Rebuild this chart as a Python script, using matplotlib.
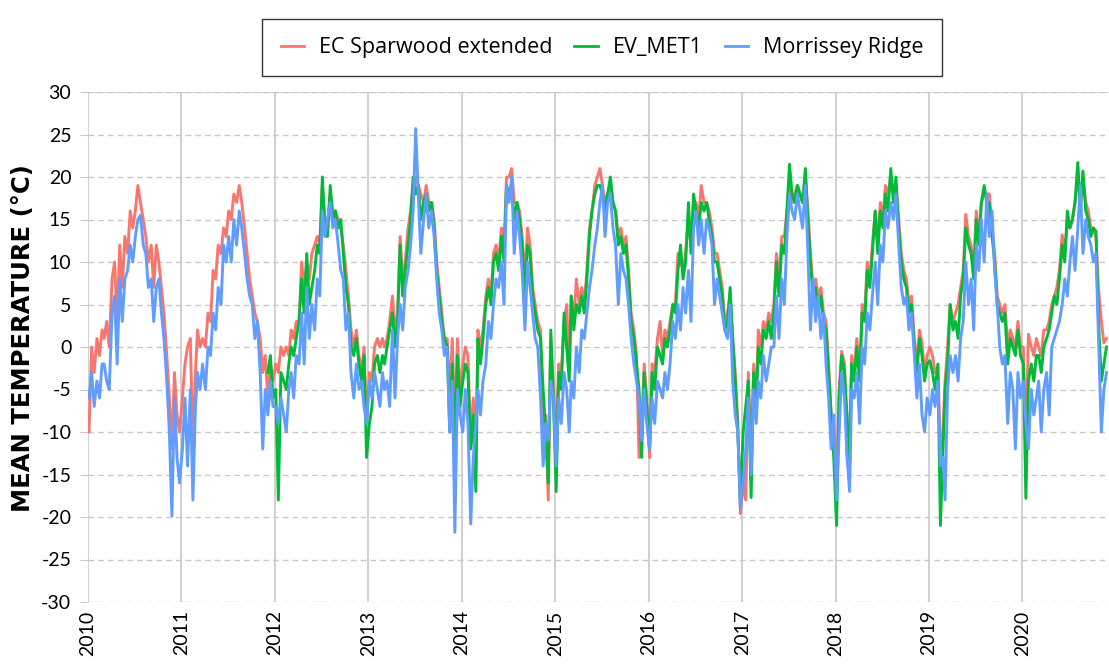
import numpy as np
import pandas as pd
import matplotlib
matplotlib.use("Agg")
import matplotlib.pyplot as plt

# Dekadal (10-day) mean air temperature, degrees C, one list per year (36 dekads)
ec_sparwood = {
    2010: [-10, 0, -3, 1, -1, 2, 1, 3, 0, 8, 10, 3, 12, 7, 13, 11, 16, 14, 16, 19, 17, 15, 13, 10, 12, 7, 12, 10, 7, 4, -1, -6, -12, -3, -8, -10],
    2011: [-6, -2, 0, 1, -12, -3, 2, 0, 1, 0, 4, 3, 9, 8, 12, 11, 14, 13, 16, 15, 18, 17, 19, 17, 14, 11, 8, 6, 4, 3, 1, -3, -1, -6, -2, -4],
    2012: [-2, -3, 0, -1, 0, -1, 2, 1, 3, 3, 10, 7, 10, 8, 11, 12, 13, 12, 19, 15, 14, 18, 16, 16, 15, 14, 12, 9, 6, 2, 0, 2, -1, -3, 0, -9],
    2013: [-3, -4, 0, 1, 0, 1, 0, 1, 3, 6, 2, 4, 13, 8, 10, 14, 16, 19, 20, 19, 18, 17, 19, 17, 17, 15, 10, 7, 4, 1, 1, -6, 1, -10, 1, -5],
    2014: [-2, 0, -1, -11, -6, -14, 2, 0, 2, 6, 8, 6, 11, 12, 10, 14, 12, 20, 20, 21, 17, 17, 16, 13, 8, 14, 12, 7, 5, 3, 2, -12, -8, -18, 1, -5],
    2015: [-10, -2, -3, 3, 5, -2, 6, 3, 8, 5, 7, 5, 9, 14, 16, 19, 20, 21, 19, 17, 18, 19, 17, 16, 13, 14, 12, 13, 9, 4, 2, -1, -13, -9, -2, -6],
    2016: [-13, -2, -3, 1, 3, -1, 2, 1, 3, 5, 5, 11, 10, 9, 11, 15, 12, 17, 17, 15, 19, 17, 17, 16, 14, 11, 11, 9, 7, 3, 4, 6, 1, -3, -9, -19.6],
    2017: [-16, -18, -3, -13, -2, -6, 2, 0, 3, 2, 4, 3, 5, 11, 8, 13, 13, 16, 20, 17, 18, 19, 18, 17, 20, 16, 11, 7, 8, 6, 7, 4, 3, -2, -8, -10],
    2018: [-16, -5, -0.5, -2, -12.8, -11, -1, -3, 1, -3, 5, 4, 10, 8, 12, 16, 12, 17, 15, 19, 18, 20, 18, 19, 15, 11, 9, 8, 5, 6, 1, -2, 2, 0.5, -3, -1],
    2019: [0, -1, -3, -2.4, -12, -10, -4, 0, 5, 3, 4, 5, 7, 9, 15.6, 13, 12, 9, 16, 13, 17, 18, 18, 18, 14, 11, 6, 5, 4, 5, 0, 2, 1, 0, 3, 0],
    2020: [0, -12, 1.5, 0, -1, 1, 0, -1, 2, 2, 3, 5, 6, 7, 9, 13.2, 11, 15, 14, 15, 17, 20, 17, 20, 17, 16, 14, 14, 13, 6.8, 3, 0.5, 1],
}

ev_met1 = {
    2011: [np.nan] * 33 + [-3, -1, -6],
    2012: [-5, -18, -3, -4, -5, -2, 0, -1, 1, 3, 8, 4, 11, 5, 7, 9, 12, 11, 20, 14, 13, 19, 15, 16, 14, 15, 11, 7, 5, 0, -1, 1, -2, -4, -1, -13],
    2013: [-9, -7, -2, -1, -3, -1, -2, 0, 2, 4, 0, 3, 12, 6, 9, 12, 15, 20, 18, 19, 15, 17, 18, 16, 17, 14, 9, 6, 3, 1, 0, -10, -2, -12, -1, -7],
    2014: [-4, -2, -3, -12, -8, -17, 1, -2, 1, 5, 7, 5, 10, 11, 9, 13, 10, 19, 18, 19, 15, 17, 15, 12, 6, 12, 11, 6, 4, 2, 1, -5, -10, -16, 2, -6],
    2015: [-17, -3, -5, 4, 0, -4, 6, 2, 5, 4, 6, 4, 8, 13, 16, 18, 19, 19, 18, 16, 18, 20, 17, 16, 12, 13, 11, 12, 8, 3, 1, -2, -5, -13, -3, -7],
    2016: [-12, -3, -5, 0, -1, -2, 1, 0, 2, 5, 4, 9, 12, 8, 10, 17, 11, 18, 16, 14, 17, 16, 17, 15, 13, 10, 10, 8, 6, 2, 3, 7, 1, -4, -10, -18],
    2017: [-10, -7, -4, -17.7, -3, -7, 0, -2, 2, 1, 3, 1, 4, 10, 6, 12, 11, 16, 21.5, 18, 17, 19, 18, 17, 21, 15, 10, 6, 7, 4, 6, 3, 2, -3, -8, -13],
    2018: [-21, -6, -1, -3, -8, -14, -2, -4, 0, -4, 4, 3, 9, 7, 11, 16, 11, 16, 14, 18, 16, 21, 17, 20, 14, 10, 8, 7, 4, 5, 0, -3, 1, -1, -4, -2],
    2019: [-1.6, -3, -5, -2, -21, -12, -5, -2, 5, 2, 3, 1, 6, 8, 14, 12, 11, 8, 15, 12, 17, 19, 17, 17, 13, 10, 5, 4, 3, 4, -2, 1, 0, -1, 2, -1],
    2020: [-2, -17.8, -4, -2, -4, -1, -1, -3, 0, 1, 2, 4, 6, 5, 8, 12, 10, 16, 14, 15, 17, 21.7, 16, 20.7, 16, 15, 13, 14, 13.6, 3, -4, -2, 0],
}

morrissey_ridge = {
    2010: [-6, -3, -7, -4, -6, -2, -2, -4, -5, 4, 6, -2, 8, 3, 8, 9, 12, 10, 13, 15, 15.5, 12, 11, 7, 8, 3, 7, 8, 4, 1, -4, -10, -19.9, -6, -13, -16],
    2011: [-12, -6, -14, -5, -18, -7, -3, -5, -2, -5, 0, -1, 4, 2, 7, 5, 12, 10, 13, 10, 15, 12, 16, 14, 11, 8, 6, 5, 1, 3, -3, -12, -5, -8, -4, -7],
    2012: [-7, -9, -6, -8, -10, -5, -3, -6, -1, -2, 4, -2, 7, 1, 5, 2, 8, 6, 16, 13, 15, 17, 14, 15, 12, 9, 8, 2, 4, -3, -6, -2, -5, -4, -7, -9],
    2013: [-4, -6, -3, -5, -7, -3, -5, -4, -7, 2, -6, 1, 5, 2, 7, 9, 12, 16, 25.7, 18, 11, 15, 18, 14, 16, 13, 8, 4, 2, -1, 0, -10, -4, -21.8, -5, -8],
    2014: [-10, -5, -9, -20.8, -13, -9, -5, -8, -4, -2, 3, 1, 5, 8, 7, 10, 5, 19, 17, 20, 11, 16, 13, 9, 2, 10, 7, 4, 1, 0, -6, -14, -9, -11, -4, -6],
    2015: [-14, -6, -9, -3, -5, -10, -4, -6, 0, -3, 2, 1, 4, 7, 9, 12, 14, 17, 19, 13, 17, 18, 14, 12, 5, 11, 9, 8, 5, 1, -2, -4, -6, -11, -5, -9],
    2016: [-12, -6, -9, -4, -5, -6, -3, -5, -2, 3, 1, 5, 2, 7, 4, 9, 3, 14, 16, 12, 15, 11, 15, 14, 12, 5, 8, 6, 4, 2, 1, 5, -4, -8, -10, -19],
    2017: [-16, -12, -6, -15, -5, -9, -4, -6, -1, -4, -2, 0, 0, 6, 1, 8, 5, 13, 18, 16, 15, 18, 16, 14, 19, 11, 2, 8, 3, 6, 1, 4, -2, -6, -12, -8],
    2018: [-18, -10, -3, -6, -13, -17, -5, -6, -3, -9, 0, -2, 4, 2, 6, 10, 5, 12, 10, 16, 14, 17, 15, 18, 12, 7, 5, 6, 2, 4, -1, -6, -2, -8, -10, -6],
    2019: [-8, -5, -7, -4, -14, -13, -18, -5, -1, -3, -1, -4, 1, 3, 10, 5, 8, 2, 12, 9, 15, 10, 18, 13, 16, 9, 5, 0, -2, -1, -9, -3, -5, -12, -3, -6],
    2020: [-4, -9, -12, -5, -8, -6, -4, -10, -5, -3, -8, 0, 1, 2, 3, 5, 8, 6, 10, 13, 9, 14, 19, 11, 15, 13, 12, 10, 11, 1, -10, -5, -3],
}

series_names = ["EC Sparwood extended", "EV_MET1", "Morrissey Ridge"]
series_colors = ["#F8766D", "#00BA38", "#619CFF"]
y_ticks = list(range(-30, 31, 5))
years = list(range(2010, 2021))


def to_series(by_year):
    """Flatten a {year: dekad values} mapping into a dated Series."""
    dates, vals = [], []
    for yr, values in by_year.items():
        for k, v in enumerate(values):
            month = k // 3 + 1
            day = (5, 15, 25)[k % 3]
            dates.append(pd.Timestamp(yr, month, day))
            vals.append(v)
    return pd.Series(vals, index=pd.DatetimeIndex(dates), dtype=float)


fig = plt.figure(figsize=(11.09, 6.66), dpi=100)
ax = fig.add_axes([88 / 1109, 1 - 602 / 666, 1020 / 1109, 510 / 666])

for data, name, color in zip([ec_sparwood, ev_met1, morrissey_ridge],
                             series_names, series_colors):
    s = to_series(data)
    ax.plot(s.index, s.values, color=color, lw=2.1, label=name)

ax.set_ylim(-30, 30)
ax.set_xlim(pd.Timestamp(2010, 1, 1), pd.Timestamp(2020, 12, 1))
ax.set_yticks(y_ticks)
ax.set_yticklabels([str(v) for v in y_ticks], fontfamily="Lato", fontsize=14)
ax.set_xticks([pd.Timestamp(y, 1, 1) for y in years])
ax.set_xticklabels([str(y) for y in years], rotation=90,
                   fontfamily="Lato", fontsize=14)
ax.tick_params(axis="y", length=6, color="#C8C8C8", pad=6)
ax.tick_params(axis="x", length=0, pad=6)

ax.grid(axis="y", color="#C8C8C8", linestyle=(0, (4, 3)), linewidth=1)
ax.grid(axis="x", color="#C8C8C8", linestyle="-", linewidth=1.2)
ax.axhline(30, color="#C8C8C8", lw=1.2, zorder=0.5)
ax.set_axisbelow(True)
for sp in ax.spines.values():
    sp.set_visible(False)

fig.text(0.021, 0.493, "MEAN TEMPERATURE (\u00b0C)", rotation=90,
         ha="center", va="center", fontfamily="DejaVu Sans",
         fontweight="bold", fontsize=17.5)

leg = fig.legend(loc="upper center", bbox_to_anchor=(0.543, 0.988), ncol=3,
                 frameon=True, fancybox=False, edgecolor="black",
                 prop={"family": "Open Sans", "size": 15.5},
                 handlelength=1.1, handletextpad=0.7, columnspacing=1.0,
                 borderpad=0.85)
leg.get_frame().set_linewidth(1.0)
for h in leg.get_lines():
    h.set_linewidth(2)

fig.savefig("out.png", dpi=100)
